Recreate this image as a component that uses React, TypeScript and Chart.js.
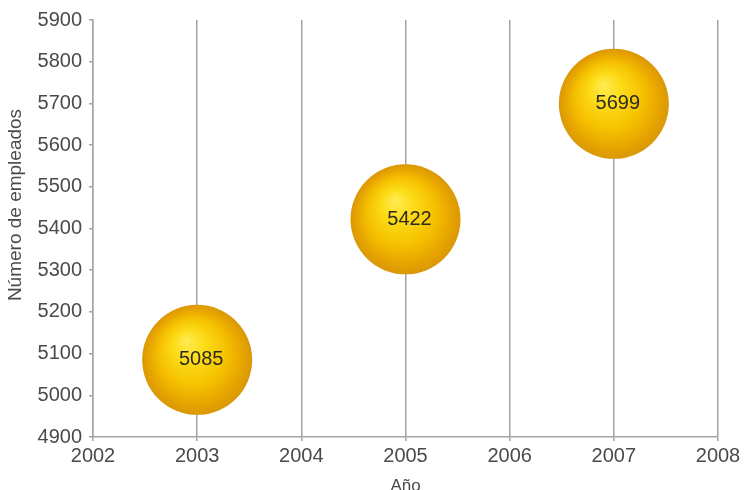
import React, { useEffect, useRef } from "react";
import { Chart, registerables } from "chart.js";

Chart.register(...registerables);

const years: number[] = [2003, 2005, 2007];
const employees: number[] = [5085, 5422, 5699];
const bubbleRadius = 55;
const xTitle = "Año";
const yTitle = "Número de empleados";

const FONT = "'Liberation Sans', Arial, Helvetica, sans-serif";

const labelPlugin = {
  id: "bubbleLabels",
  afterDatasetsDraw(chart: any) {
    const ctx = chart.ctx;
    const meta = chart.getDatasetMeta(0);
    ctx.save();
    ctx.font = `20px ${FONT}`;
    ctx.fillStyle = "#2e2a20";
    ctx.textAlign = "center";
    ctx.textBaseline = "middle";
    meta.data.forEach((el: any, i: number) => {
      ctx.fillText(String(employees[i]), el.x + 4, el.y);
    });
    ctx.restore();
  },
  afterDraw(chart: any) {
    const ctx = chart.ctx;
    ctx.save();
    ctx.translate(16, 205);
    ctx.rotate(-Math.PI / 2);
    ctx.font = `19px ${FONT}`;
    ctx.fillStyle = "#4a4a4a";
    ctx.textAlign = "center";
    ctx.textBaseline = "middle";
    ctx.fillText(yTitle, 0, 0);
    ctx.restore();
  },
};

export default function App() {
  const ref = useRef<HTMLCanvasElement>(null);
  useEffect(() => {
    if (!ref.current) return;
    const chart = new Chart(ref.current, {
      type: "bubble",
      data: {
        datasets: [
          {
            data: years.map((y, i) => ({ x: y, y: employees[i], r: bubbleRadius })),
            borderWidth: 0,
            backgroundColor: (c: any) => {
              const ch = c.chart;
              const raw = c.raw;
              if (!raw || !ch.scales || !ch.scales.x || !ch.scales.y) return "#f5c000";
              const cx = ch.scales.x.getPixelForValue(raw.x);
              const cy = ch.scales.y.getPixelForValue(raw.y);
              if (!isFinite(cx) || !isFinite(cy)) return "#f5c000";
              const r = bubbleRadius;
              const g = ch.ctx.createRadialGradient(cx - 0.2 * r, cy - 0.36 * r, 0, cx, cy, r);
              g.addColorStop(0, "#ffec55");
              g.addColorStop(0.28, "#fcdc18");
              g.addColorStop(0.6, "#f6c200");
              g.addColorStop(0.88, "#e5a200");
              g.addColorStop(1, "#d99808");
              return g;
            },
          },
        ],
      },
      options: {
        responsive: false,
        animation: false,
        layout: { autoPadding: false, padding: { top: 20, right: 29, left: 0, bottom: 0 } },
        plugins: {
          legend: { display: false },
          tooltip: { enabled: false },
          title: { display: false },
        },
        elements: { point: { hoverRadius: 0 } },
        scales: {
          x: {
            type: "linear",
            min: 2002,
            max: 2008,
            afterFit: (s: any) => {
              s.height = 53;
            },
            ticks: {
              stepSize: 1,
              color: "#4a4a4a",
              font: { family: FONT, size: 20 },
              padding: 3,
              callback: (v: any) => String(v),
            },
            grid: {
              color: "#a3a3a3",
              lineWidth: 1.5,
              drawTicks: true,
              tickLength: 4,
            },
            border: { color: "#a3a3a3", width: 1.5 },
            title: {
              display: true,
              text: xTitle,
              color: "#4a4a4a",
              font: { family: FONT, size: 17 },
              padding: { top: 0, bottom: -7 },
            },
          },
          y: {
            type: "linear",
            min: 4900,
            max: 5900,
            afterFit: (s: any) => {
              s.width = 93;
            },
            ticks: {
              stepSize: 100,
              color: "#4a4a4a",
              font: { family: FONT, size: 20 },
              padding: 7,
              callback: (v: any) => String(v),
            },
            grid: {
              drawOnChartArea: false,
              drawTicks: true,
              tickLength: 4,
              color: "#a3a3a3",
              lineWidth: 1.5,
            },
            border: { color: "#a3a3a3", width: 1.5 },
          },
        },
      },
      plugins: [labelPlugin],
    } as any);
    return () => chart.destroy();
  }, []);
  return (
    <div style={{ position: "absolute", left: 0, top: 0, width: 747, height: 490, background: "#fff" }}>
      <canvas ref={ref} width={747} height={490} />
    </div>
  );
}
